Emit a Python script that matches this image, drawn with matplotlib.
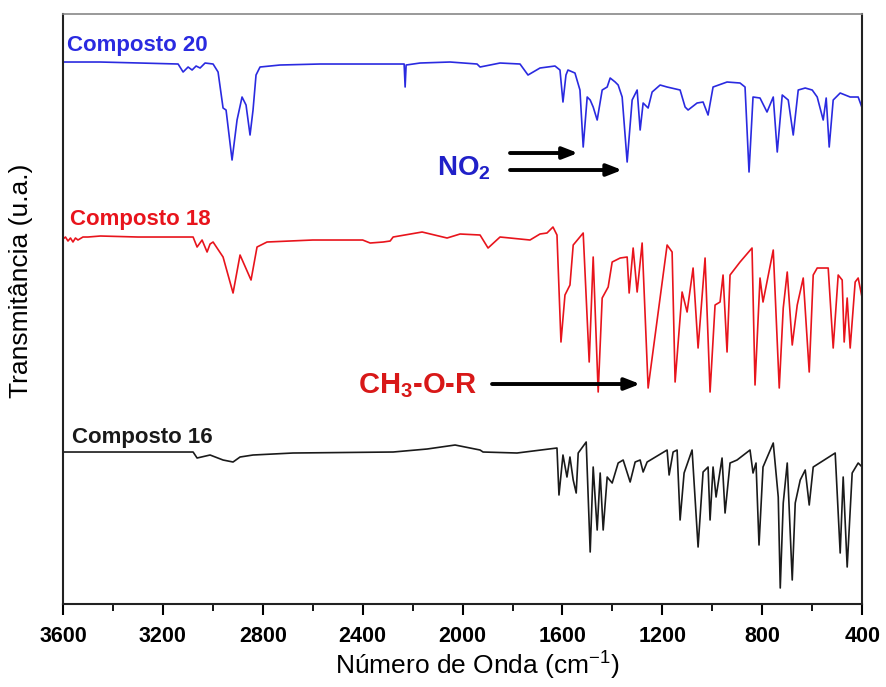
import matplotlib
matplotlib.use("Agg")
import matplotlib.pyplot as plt
from matplotlib.ticker import MultipleLocator

plt.rcParams["mathtext.fontset"] = "custom"
plt.rcParams["mathtext.rm"] = "Liberation Sans"
plt.rcParams["mathtext.bf"] = "Liberation Sans:bold"
plt.rcParams["mathtext.it"] = "Liberation Sans:italic"

# ---- data (wavenumber cm-1, transmittance in arbitrary units incl. offset) ----
wn_20 = [3600, 3452, 3292, 3139, 3119, 3099, 3083, 3067, 3051, 3031, 2999, 2979, 2959, 2947,
         2923, 2903, 2883, 2867, 2851, 2839, 2827, 2811, 2731, 2571, 2411, 2250, 2234, 2230,
         2226, 2170, 2050, 1942, 1930, 1850, 1770, 1738, 1690, 1630, 1610, 1598, 1586, 1578,
         1550, 1530, 1517, 1501, 1489, 1477, 1461, 1441, 1421, 1409, 1389, 1377, 1361, 1341,
         1321, 1301, 1289, 1277, 1257, 1241, 1209, 1181, 1129, 1109, 1097, 1061, 1037, 1017,
         997, 941, 889, 869, 853, 837, 809, 781, 756, 740, 720, 696, 676, 656, 628, 600, 580,
         556, 544, 532, 516, 488, 448, 416, 400]
t_20 = [542, 542, 541, 540, 532, 537, 534, 538, 536, 541, 540, 532, 496, 494,
        444, 484, 507, 499, 469, 494, 529, 537, 539, 540, 540, 540, 540, 517,
        539, 541, 542, 540, 537, 541, 540, 529, 536, 538, 534, 502, 529, 534,
        531, 514, 457, 507, 504, 497, 484, 514, 517, 526, 522, 519, 507, 442,
        504, 514, 474, 501, 496, 512, 519, 517, 514, 497, 494, 501, 502, 489,
        517, 522, 521, 517, 432, 507, 506, 492, 507, 452, 509, 504, 469, 514, 516, 514, 507,
        484, 506, 457, 504, 511, 507, 507, 496]

wn_18 = [3600, 3590, 3580, 3570, 3560, 3550, 3540, 3520, 3500, 3450, 3300, 3079, 3063, 3043,
         3023, 3011, 2999, 2959, 2919, 2891, 2847, 2823, 2783, 2600, 2400, 2370, 2318, 2290,
         2278, 2162, 2062, 2010, 1930, 1898, 1850, 1730, 1690, 1662, 1638, 1622, 1606, 1590,
         1570, 1557, 1517, 1493, 1477, 1457, 1441, 1417, 1401, 1369, 1341, 1333, 1317, 1301,
         1281, 1257, 1181, 1161, 1149, 1121, 1101, 1077, 1057, 1029, 1009, 989, 969, 957,
         941, 929, 889, 841, 829, 809, 797, 756, 732, 716, 700, 680, 660, 636, 612, 596, 580,
         536, 516, 496, 480, 472, 460, 448, 428, 416, 400]
t_18 = [365, 367, 363, 366, 362, 366, 364, 367, 367, 368, 367, 367, 357, 364,
        352, 360, 362, 347, 311, 349, 324, 357, 362, 364, 364, 361, 362, 363,
        367, 372, 366, 370, 369, 356, 367, 364, 370, 371, 377, 369, 262, 309,
        319, 359, 371, 242, 347, 212, 306, 317, 342, 346, 347, 311, 356, 312,
        361, 216, 359, 352, 222, 312, 292, 336, 256, 346, 212, 299, 302, 329,
        252, 329, 342, 356, 219, 326, 302, 354, 216, 296, 332, 259, 299, 326, 232, 329, 336,
        336, 256, 329, 324, 262, 306, 256, 322, 326, 306]

wn_16 = [3600, 3300, 3079, 3063, 3011, 2959, 2919, 2891, 2839, 2679, 2278, 2142, 2030, 1970,
         1930, 1918, 1782, 1622, 1614, 1598, 1582, 1570, 1557, 1545, 1537, 1505, 1489, 1477,
         1461, 1449, 1437, 1421, 1401, 1377, 1357, 1329, 1309, 1289, 1277, 1261, 1181, 1173,
         1157, 1141, 1129, 1113, 1081, 1057, 1037, 1017, 1009, 997, 985, 961, 949, 929, 901,
         849, 837, 825, 813, 797, 756, 736, 728, 716, 700, 680, 668, 648, 628, 612, 596, 508,
         488, 476, 460, 440, 416, 400]
t_16 = [152, 152, 152, 146, 149, 144, 142, 147, 149, 151, 152, 155, 159, 156,
        154, 152, 151, 156, 109, 149, 127, 147, 124, 111, 151, 162, 52, 137,
        74, 131, 74, 127, 121, 141, 144, 122, 142, 144, 132, 142, 154, 129,
        152, 154, 84, 131, 154, 57, 132, 137, 84, 137, 107, 146, 91, 141, 144,
        154, 131, 141, 59, 137, 161, 107, 16, 101, 141, 24, 101, 124, 134, 99, 137, 151,
        51, 127, 37, 131, 141, 137]

labels = ["Composto 20", "Composto 18", "Composto 16"]
colors = ["#2a2ae0", "#e8141c", "#1a1a1a"]
xticks = [3600, 3200, 2800, 2400, 2000, 1600, 1200, 800, 400]

# ---- figure ----
fig = plt.figure(figsize=(8.87, 6.87), dpi=100)
ax = fig.add_axes([0.071, 0.1208, 0.901, 0.8588])

for wn, t, c in zip([wn_20, wn_18, wn_16], [t_20, t_18, t_16], colors):
    ax.plot(wn, t, color=c, lw=1.2)

ax.set_xlim(3600, 400)
ax.set_ylim(0, 590)
ax.set_xticks(xticks)
ax.set_xticklabels([str(v) for v in xticks])
ax.xaxis.set_minor_locator(MultipleLocator(200))
ax.set_yticks([])
ax.tick_params(axis="x", which="major", direction="out", length=8, width=1.5,
               labelsize=15.5, pad=8)
ax.tick_params(axis="x", which="minor", direction="out", length=5, width=1.3)
for lab in ax.get_xticklabels():
    lab.set_fontweight("bold")
    lab.set_family(["Liberation Sans", "DejaVu Sans"])

for s in ["left", "bottom", "right"]:
    ax.spines[s].set_linewidth(1.5)
    ax.spines[s].set_color("#222222")
ax.spines["top"].set_linewidth(1.2)
ax.spines["top"].set_color("#888888")

fam = ["Liberation Sans", "DejaVu Sans"]
ax.set_xlabel("Número de Onda (cm$^{-1}$)", fontsize=19, family=fam)
ax.xaxis.set_label_coords(0.518, -0.078)
ax.set_ylabel("Transmitância (u.a.)", fontsize=19, family=fam)
ax.yaxis.set_label_coords(-0.037, 0.547)

label_pos = [(3584, 553), (3572, 379), (3564, 161)]
for (x, y), txt, c in zip(label_pos, labels, colors):
    ax.text(x, y, txt, color=c, fontsize=16, fontweight="bold", family=fam,
            ha="left", va="baseline")

# annotations
ax.text(2102, 429, r"NO$_\mathbf{2}$", color="#2020c8", fontsize=20, fontweight="bold",
        family=fam, ha="left", va="baseline")
ax.text(2419, 211, r"CH$_\mathbf{3}$-O-R", color="#d81818", fontsize=21, fontweight="bold",
        family=fam, ha="left", va="baseline")

arrowprops = dict(arrowstyle="-|>,head_length=0.9,head_width=0.35", color="black",
                  lw=2.8, shrinkA=0, shrinkB=0)
ax.annotate("", xy=(1538, 451), xytext=(1810, 451), arrowprops=arrowprops)
ax.annotate("", xy=(1361, 434), xytext=(1810, 434), arrowprops=arrowprops)
ax.annotate("", xy=(1289, 220), xytext=(1882, 220), arrowprops=arrowprops)

fig.savefig("out.png", dpi=100)
